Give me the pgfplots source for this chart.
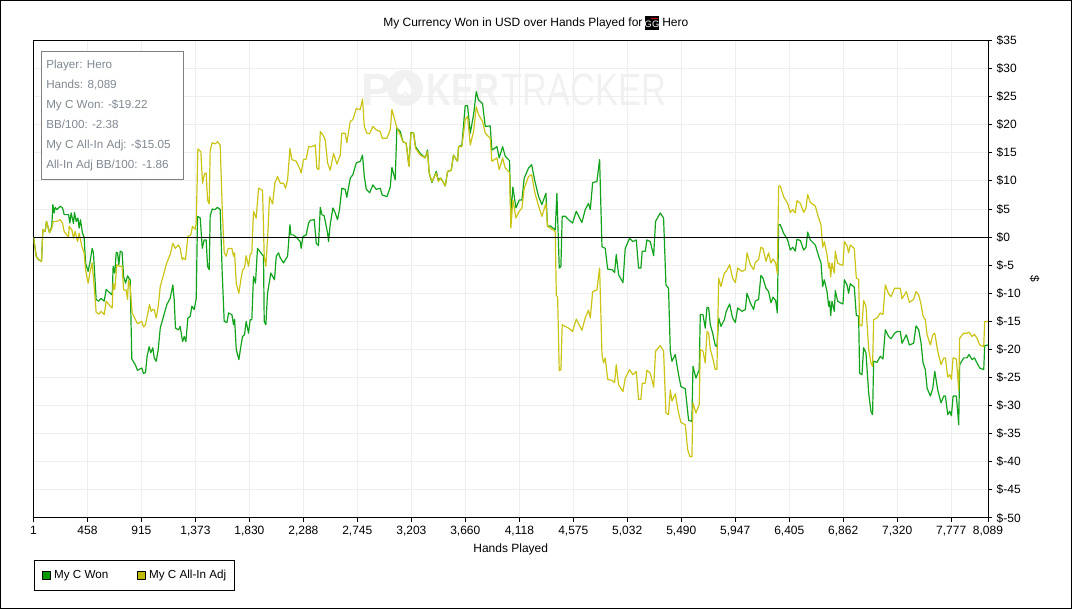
\documentclass[border=0pt]{standalone}
\usepackage{pgfplots}
\pgfplotsset{compat=1.18}
\usepackage{fontspec}
\setmainfont{Liberation Sans}
\newfontfamily\symfont{DejaVu Sans}
\definecolor{wonc}{HTML}{12A31C}
\definecolor{adjc}{HTML}{CBC417}
\definecolor{wons}{HTML}{009900}
\definecolor{adjs}{HTML}{BDB800}
\definecolor{gridc}{HTML}{EEEEEE}
\definecolor{wm}{HTML}{F1F1F1}
\definecolor{infoc}{HTML}{808891}
\newcommand\cf{\fontsize{9}{11}\selectfont}
\newcommand\cfs{\fontsize{8.75}{11}\selectfont}
\begin{document}
\begin{tikzpicture}[x=0.75pt,y=0.75pt]
\useasboundingbox (0,0) rectangle (1072,609);
\draw[black,line width=0.75pt] (0.5,0.5) rectangle (1071.5,608.5);
% watermark
\node[anchor=base west,inner sep=0,text=wm] at (361,503) {\fontsize{34}{34}\selectfont\bfseries P};
\fill[wm] (405,521) circle (18);
\node[text=white,inner sep=0] at (405,521) {\fontsize{20}{20}\selectfont\symfont ♠};
\node[anchor=base west,inner sep=0,text=wm] at (426,503) {\scalebox{0.76}[1]{\fontsize{34}{34}\selectfont\bfseries KER}};
\node[anchor=base west,inner sep=0,text=wm] at (501,503) {\scalebox{0.76}[1]{\fontsize{34}{34}\selectfont TRACKER}};
\begin{axis}[
  at={(25.125pt,68.25pt)},anchor=south west,
  scale only axis,width=715.875pt,height=358.125pt,
  xmin=1,xmax=8089,ymin=-50,ymax=35,
  axis line style={black,line width=0.75pt},
  grid=major,grid style={gridc,line width=0.75pt},
  tick align=outside,xtick pos=bottom,ytick pos=right,
  major tick length=3pt,tick style={black,line width=0.75pt},
  xtick={1,458,915,1373,1830,2288,2745,3203,3660,4118,4575,5032,5490,5947,6405,6862,7320,7777,8089},
  xticklabels={1,458,915,{1,373},{1,830},{2,288},{2,745},{3,203},{3,660},{4,118},{4,575},{5,032},{5,490},{5,947},{6,405},{6,862},{7,320},{7,777},{8,089}},
  ytick={-50,-45,-40,-35,-30,-25,-20,-15,-10,-5,0,5,10,15,20,25,30,35},
  yticklabels={\$-50,\$-45,\$-40,\$-35,\$-30,\$-25,\$-20,\$-15,\$-10,\$-5,\$0,\$5,\$10,\$15,\$20,\$25,\$30,\$35},
  tick label style={font=\cf},
  x tick label style={yshift=0.5pt},
  xlabel={Hands Played},xlabel style={font=\cf,yshift=0.75pt},
  ylabel={\$},ylabel style={font=\cf,rotate=180},
  legend style={at={(0,-0.0872)},anchor=north west,draw=black,line width=0.75pt,font=\cfs,
    legend columns=2,inner xsep=4pt,inner ysep=5.4pt,
    /tikz/every even column/.append style={column sep=17.5pt}},
  legend cell align=left,
]
\addplot[wonc,line width=0.9pt,line join=round,
  legend image code/.code={\path (0pt,0pt); \draw[black,fill=wons,line width=0.75pt] (2.25pt,-3pt) rectangle (8.25pt,3pt);}]
coordinates {
(1,0)(24,-3.4)(43,-4.0)(69,-4.3)(80,1.3)(100,1.0)(111,2.8)(137,0.8)(156,1.9)(165,5.8)(176,4.3)(185,5.3)(199,4.9)(227,5.5)(247,5.2)(261,4.0)(298,4.0)(309,2.5)(320,4.3)(340,2.4)(348,4.4)(363,2.8)(377,3.4)(388,1.6)(399,3.1)(416,0.7)(430,0)
(442,-4.6)(464,-6.1)(481,-4.3)(498,-2.0)(509,-2.8)(532,-11.1)(552,-11.4)(574,-10.9)(600,-11.4)(617,-9.3)(651,-10.0)(668,-10.3)(676,-5.2)(690,-6.4)(702,-2.7)(713,-2.8)(724,-4.9)(736,-2.5)(752,-2.7)(764,-7.0)(781,-8.2)(798,-6.9)(820,-7.6)
(834,-21.7)(863,-22.7)(882,-23.7)(919,-23.3)(933,-24.3)(950,-24.1)(964,-21.2)(981,-19.5)(995,-20.6)(1012,-19.7)(1024,-21.5)(1041,-22.1)(1058,-20.0)(1075,-16.2)(1103,-14.1)(1131,-12.0)(1159,-10.9)(1182,-8.5)(1193,-11.1)(1204,-16.2)(1230,-16.5)(1244,-15.9)(1264,-18.6)(1278,-17.7)(1292,-18.6)(1309,-14.4)(1329,-14.1)(1343,-12.3)(1363,-12.9)(1380,-10.9)
(1391,3.7)(1414,3.4)(1431,-2.0)(1447,-0.5)(1464,-0.5)(1476,-5.2)(1490,-5.8)(1498,3.7)(1515,5.0)(1541,4.9)(1560,5.3)(1583,4.9)(1600,-6.4)(1617,-15.0)(1640,-15.2)(1654,-13.5)(1682,-13.8)(1696,-15.6)(1705,-14.6)(1719,-20.0)(1741,-21.8)(1758,-19.5)(1772,-17.7)(1789,-17.4)(1803,-15.0)(1823,-17.1)(1837,-14.7)(1851,-14.7)
(1865,-7.0)(1882,-8.2)(1899,-2.0)(1950,-3.4)(1956,-15.0)(1970,-15.6)(1984,-10.0)(2012,-6.4)(2043,-7.6)(2058,-3.4)(2077,-2.8)(2092,-3.7)(2120,-4.6)(2154,-3.4)(2174,2.2)(2182,0.4)(2204,0.4)(2227,0)(2261,-0.8)(2269,-2.0)(2284,0.1)(2312,0.4)(2332,2.5)(2346,3.0)(2380,3.1)(2397,-1.1)(2416,-1.5)(2431,5.3)(2445,4.0)(2464,3.8)(2493,0.7)(2501,-0.8)(2515,2.2)(2538,5.2)(2558,4.3)(2577,3.1)(2594,4.9)(2614,8.7)(2642,8.5)(2656,7.1)(2685,10.5)
(2707,11.1)(2736,13.2)(2770,13.5)(2789,14.6)(2804,10.8)(2821,8.5)(2849,7.9)(2877,9.3)(2905,8.5)(2939,8.7)(2956,7.5)(2996,7.2)(3024,8.9)(3038,12.4)(3066,10.2)(3080,19.4)(3109,18.8)(3131,17.0)(3159,16.7)(3182,12.7)(3199,18.6)(3222,18.5)(3238,16.1)(3278,14.9)(3320,14.1)(3340,15.5)(3354,11.4)(3377,9.7)(3414,11.7)(3431,10.2)(3453,10.5)(3490,9.1)(3510,11.7)(3541,11.9)(3560,14.6)(3594,13.5)(3603,16.1)(3631,16.4)(3659,23.4)(3679,23.4)(3702,18.5)(3730,21.8)(3753,25.9)(3772,24.4)(3806,23.8)(3829,19.7)(3871,19.8)(3885,15.5)(3928,16.1)(3947,14.1)(3976,16.1)(3998,14.4)(4035,13.6)
(4046,3.7)(4063,8.9)(4089,5.2)(4117,6.6)(4140,6.6)(4159,10.5)(4196,12.3)(4222,12.9)(4247,10.2)(4281,7.2)(4309,5.8)(4343,7.8)(4357,1.9)(4380,2.0)(4422,1.3)(4436,7.8)(4456,-5.5)(4470,-5.2)(4481,3.7)(4507,3.7)(4535,3.1)(4569,2.5)(4600,4.6)(4648,2.6)(4676,4.9)(4704,6.0)(4719,4.9)(4739,9.7)(4775,9.9)(4798,13.8)
(4818,-1.7)(4846,-2.0)(4866,-5.7)(4902,-5.8)(4925,-6.3)(4939,-3.1)(4959,-6.7)(4996,-8.1)(5015,-2.0)(5052,-0.2)(5080,-0.8)(5109,-0.5)(5128,-5.5)(5148,-5.5)(5159,-2.5)(5185,-2.5)(5199,-0.5)(5227,-0.8)(5256,-3.3)(5272,2.8)(5312,4.3)(5340,3.4)(5360,-8.5)(5382,-9.1)(5397,-20.3)(5411,-22.1)(5439,-20.9)(5467,-24.5)(5487,-26.6)(5524,-27.0)(5552,-32.6)(5580,-32.8)(5589,-23.0)(5614,-25.1)(5642,-23.6)(5651,-13.8)
(5674,-13.8)(5693,-16.2)(5708,-12.5)(5722,-12.6)(5736,-15.6)(5756,-17.1)(5778,-19.3)(5792,-19.5)(5807,-14.4)(5826,-15.9)(5855,-14.7)(5871,-13.2)(5900,-11.9)(5925,-14.4)(5948,-15.2)(5968,-12.6)(6004,-13.2)(6033,-12.9)(6047,-10.0)(6075,-11.7)(6103,-12.9)(6117,-11.4)(6145,-11.1)(6165,-6.8)(6182,-7.3)(6208,-9.1)(6230,-9.7)(6250,-11.7)(6267,-10.7)(6290,-11.3)(6304,-13.5)
(6315,2.2)(6329,2.2)(6357,0.7)(6391,-0.5)(6414,-2.3)(6434,-1.8)(6456,-2.5)(6470,-0.4)(6499,-0.6)(6527,-2.3)(6547,-1.8)(6561,0.9)(6583,-0.5)(6626,-1.4)(6654,-3.4)(6674,-4.6)(6688,-8.8)(6702,-7.6)(6725,-9.7)(6739,-12.3)(6747,-11.4)(6756,-14.0)(6767,-11.4)(6787,-13.2)(6795,-9.5)(6815,-11.4)(6838,-11.7)(6860,-11.9)(6872,-7.6)(6894,-8.5)(6908,-10.0)(6922,-8.3)(6956,-8.9)(6973,-13.9)(6993,-14.1)
(7001,-24.2)(7021,-24.5)(7035,-19.7)(7055,-20.6)(7078,-27.8)(7097,-31.0)(7111,-31.6)(7120,-22.1)(7148,-22.3)(7177,-21.2)(7199,-21.7)(7219,-16.5)(7247,-17.7)(7267,-18.1)(7298,-17.1)(7318,-16.8)(7346,-16.8)(7360,-18.9)(7397,-17.4)(7423,-19.2)(7459,-18.9)(7479,-15.8)(7502,-16.5)(7522,-18.9)(7539,-22.4)(7558,-23.6)(7573,-26.9)(7601,-28.3)(7621,-26.9)(7638,-23.9)(7663,-27.2)(7691,-29.5)(7714,-28.3)(7728,-28.3)(7748,-31.6)(7765,-31.0)(7779,-31.8)(7793,-28.3)(7821,-28.3)(7841,-33.4)(7849,-22.7)(7883,-21.5)(7911,-21.5)(7928,-20.9)(7954,-21.8)(7974,-21.5)(7996,-22.4)(8019,-23.3)(8053,-23.6)(8061,-19.3)(8089,-19.22)
};
\addlegendentry{My C Won}
\addplot[adjc,line width=0.9pt,line join=round,
  legend image code/.code={\path (0pt,0pt); \draw[black,fill=adjs,line width=0.75pt] (2.25pt,-3pt) rectangle (8.25pt,3pt);}]
coordinates {
(1,0)(24,-3.4)(43,-4.0)(69,-4.3)(80,1.3)(100,1.0)(111,2.8)(137,0.8)(156,1.6)(170,2.8)(199,2.8)(227,3.1)(247,2.5)(261,1.0)(298,0)(303,1.9)(326,1.3)(340,-0.2)(354,1.0)(374,-0.8)(388,0.7)(411,-1.7)(430,-2.8)
(442,-5.8)(464,-8.2)(481,-6.1)(498,-4.6)(515,-8.8)(532,-13.4)(555,-13.7)(574,-13.2)(600,-13.8)(617,-11.4)(651,-12.3)(668,-12.6)(676,-8.2)(690,-9.3)(707,-4.9)(730,-5.2)(752,-5.2)(764,-9.4)(786,-9.4)(798,-11.1)(806,-7.6)(820,-8.8)
(837,-13.5)(863,-14.6)(882,-15.4)(919,-15.0)(933,-16.0)(950,-15.6)(964,-14.1)(984,-12.0)(998,-13.2)(1012,-12.9)(1024,-12.9)(1041,-14.4)(1058,-12.3)(1075,-8.8)(1103,-6.7)(1125,-4.9)(1159,-3.1)(1182,-1.1)(1202,-2.0)(1230,-1.4)(1244,-2.0)(1261,-4.0)(1272,-3.7)(1289,-4.0)(1309,0.1)(1334,0.4)(1348,1.9)(1371,1.4)(1380,2.5)
(1394,15.7)(1419,15.2)(1433,9.6)(1450,11.3)(1464,11.4)(1476,6.6)(1490,5.9)(1498,15.4)(1515,16.8)(1541,16.6)(1560,17.0)(1583,16.4)(1600,5.2)(1617,-2.8)(1634,-3.4)(1651,-2.0)(1682,-2.0)(1696,-3.4)(1705,-2.8)(1719,-8.2)(1741,-10.0)(1758,-7.6)(1772,-5.9)(1789,-5.5)(1803,-3.3)(1823,-5.2)(1837,-3.1)(1851,-2.8)
(1865,4.6)(1888,3.4)(1908,8.7)(1942,8.3)(1956,-3.4)(1970,-5.2)(1987,0.7)(2001,7.2)(2027,5.9)(2046,9.6)(2069,10.8)(2092,9.6)(2120,9.6)(2137,8.7)(2154,10.2)(2174,15.8)(2190,13.8)(2227,13.5)(2261,12.0)(2269,11.4)(2289,13.8)(2312,13.9)(2332,16.1)(2360,16.1)(2388,16.4)(2402,12.3)(2419,12.0)(2431,18.8)(2453,18.2)(2473,17.3)(2493,13.2)(2515,11.9)(2544,14.9)(2572,13.0)(2600,14.6)(2614,18.5)(2642,18.5)(2656,16.8)(2685,20.6)
(2707,20.9)(2736,22.9)(2770,22.7)(2789,24.6)(2804,19.7)(2826,18.5)(2849,18.4)(2877,19.7)(2905,19.1)(2939,18.8)(2956,17.6)(2996,17.6)(3024,19.1)(3038,22.7)(3066,20.6)(3080,19.4)(3109,18.2)(3131,17.0)(3159,16.7)(3182,12.6)(3199,18.5)(3222,18.5)(3238,15.8)(3278,14.6)(3320,14.1)(3340,15.2)(3354,11.4)(3377,9.9)(3414,11.4)(3431,9.9)(3453,10.5)(3490,9.1)(3510,11.7)(3541,11.9)(3560,14.6)(3594,13.5)(3603,16.1)(3631,16.1)(3659,20.9)(3679,21.5)(3702,16.4)(3730,18.8)(3753,23.2)(3772,21.8)(3806,20.6)(3829,18.5)(3871,17.6)(3885,13.5)(3928,14.1)(3947,12.0)(3976,14.1)(3998,12.3)(4035,11.5)
(4046,1.6)(4063,6.6)(4089,3.4)(4117,4.6)(4140,5.2)(4159,8.7)(4196,10.8)(4222,11.1)(4247,8.1)(4281,5.5)(4309,3.7)(4343,6.0)(4357,1.9)(4380,1.6)(4422,1.0)(4431,-10.4)(4442,-10.6)(4456,-23.8)(4470,-23.6)(4481,-15.6)(4507,-15.9)(4535,-16.2)(4569,-16.8)(4600,-14.6)(4648,-16.6)(4676,-14.4)(4704,-13.0)(4719,-14.4)(4739,-9.7)(4775,-9.4)(4798,-5.5)
(4818,-20.9)(4832,-22.4)(4846,-21.5)(4866,-25.3)(4902,-25.5)(4925,-25.9)(4939,-22.7)(4959,-26.3)(4996,-27.5)(5015,-25.1)(5052,-23.6)(5080,-24.5)(5109,-23.9)(5128,-28.9)(5148,-28.9)(5159,-26.0)(5185,-26.0)(5199,-23.7)(5227,-24.2)(5256,-26.7)(5272,-20.3)(5312,-19.3)(5340,-20.3)(5360,-31.3)(5382,-31.6)(5397,-27.2)(5411,-29.2)(5439,-27.9)(5467,-31.3)(5487,-33.0)(5524,-33.4)(5544,-37.8)(5561,-39.0)(5580,-39.1)(5589,-29.5)(5614,-31.3)(5642,-29.8)(5651,-20.0)
(5674,-20.3)(5693,-22.4)(5708,-16.8)(5722,-17.1)(5736,-20.0)(5756,-21.5)(5778,-23.6)(5792,-23.5)(5807,-7.3)(5826,-8.8)(5855,-6.4)(5871,-6.1)(5900,-4.9)(5925,-7.3)(5948,-8.1)(5968,-5.5)(6004,-6.1)(6033,-5.8)(6047,-2.8)(6075,-4.9)(6103,-5.8)(6117,-4.5)(6145,-4.0)(6165,-1.8)(6182,-2.0)(6208,-4.3)(6230,-2.8)(6250,-4.6)(6267,-3.9)(6290,-4.6)(6304,-6.5)
(6315,9.1)(6329,9.1)(6357,7.2)(6391,6.0)(6414,4.4)(6434,4.9)(6456,4.3)(6470,6.5)(6499,6.0)(6527,4.4)(6547,5.2)(6561,7.6)(6583,6.2)(6626,5.5)(6654,3.4)(6674,2.2)(6688,-1.8)(6702,-0.8)(6725,-3.1)(6739,-5.5)(6747,-4.6)(6756,-7.1)(6767,-4.6)(6787,-6.4)(6795,-2.5)(6815,-4.6)(6838,-4.9)(6860,-5.0)(6872,-0.8)(6894,-1.5)(6908,-2.8)(6922,-1.4)(6956,-2.0)(6973,-7.3)(6993,-7.5)
(7001,-15.6)(7021,-15.8)(7035,-11.3)(7055,-12.3)(7078,-20.0)(7097,-22.4)(7111,-23.0)(7120,-14.7)(7148,-14.4)(7177,-13.5)(7199,-13.8)(7219,-8.5)(7247,-10.1)(7267,-10.6)(7298,-9.1)(7318,-9.1)(7346,-9.1)(7360,-11.0)(7397,-9.7)(7423,-11.6)(7459,-11.1)(7479,-9.7)(7502,-10.3)(7522,-12.0)(7539,-14.1)(7558,-14.7)(7573,-17.4)(7601,-19.2)(7621,-17.4)(7638,-17.1)(7663,-20.3)(7691,-22.7)(7714,-21.5)(7728,-21.5)(7748,-24.9)(7765,-24.5)(7779,-25.3)(7793,-21.5)(7821,-21.7)(7841,-27.2)(7849,-18.0)(7883,-17.1)(7911,-17.1)(7928,-16.9)(7954,-17.7)(7974,-17.3)(7996,-18.0)(8019,-19.2)(8053,-19.5)(8061,-15.0)(8089,-15.05)
};
\addlegendentry{My C All-In Adj}
\addplot[black,line width=0.75pt,forget plot] coordinates {(1,0)(8089,0)};
\end{axis}
% title
\node[anchor=base west,inner sep=0] at (383,582) {\cf My Currency Won in USD over Hands Played for};
\fill[black] (645,579) rectangle (659,593);
\fill[red!80!black] (651,589.5) rectangle (658,591);
\node[text=white,inner sep=0] at (652,585) {\fontsize{7}{7}\selectfont GG};
\node[anchor=base west,inner sep=0] at (662,582) {\cf Hero};
% info box
\draw[draw=gray,fill=white,line width=0.75pt] (41.5,429) rectangle (183.5,557.5);
\foreach \t/\yy in {{Player: Hero}/540,{Hands: 8,089}/520,{My C Won: -\$19.22}/500,{BB/100: -2.38}/480,{My C All-In Adj: -\$15.05}/460,{All-In Adj BB/100: -1.86}/440}{
  \node[anchor=base west,inner sep=0,text=infoc] at (46,\yy) {\cfs \t};
}
\end{tikzpicture}
\end{document}
